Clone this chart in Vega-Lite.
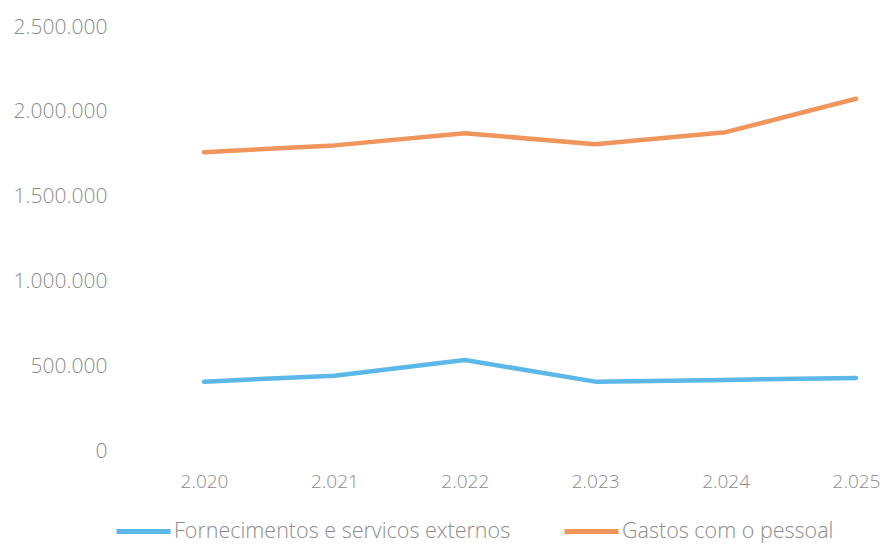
{
  "$schema": "https://vega.github.io/schema/vega-lite/v6.json",
  "autosize": "none",
  "width": 652,
  "height": 424,
  "padding": {"left": 204, "top": 27, "right": 24, "bottom": 93},
  "background": "white",
  "config": {
    "view": {"stroke": null},
    "locale": {"number": {"decimal": ",", "thousands": ".", "grouping": [3], "currency": ["", " €"]}},
    "font": "Open Sans"
  },
  "data": {
    "values": [
      {"ano": 2020, "serie": "Fornecimentos e servicos externos", "valor": 409000},
      {"ano": 2021, "serie": "Fornecimentos e servicos externos", "valor": 444000},
      {"ano": 2022, "serie": "Fornecimentos e servicos externos", "valor": 537000},
      {"ano": 2023, "serie": "Fornecimentos e servicos externos", "valor": 409000},
      {"ano": 2024, "serie": "Fornecimentos e servicos externos", "valor": 419000},
      {"ano": 2025, "serie": "Fornecimentos e servicos externos", "valor": 431000},
      {"ano": 2020, "serie": "Gastos com o pessoal", "valor": 1762000},
      {"ano": 2021, "serie": "Gastos com o pessoal", "valor": 1802000},
      {"ano": 2022, "serie": "Gastos com o pessoal", "valor": 1874000},
      {"ano": 2023, "serie": "Gastos com o pessoal", "valor": 1808000},
      {"ano": 2024, "serie": "Gastos com o pessoal", "valor": 1880000},
      {"ano": 2025, "serie": "Gastos com o pessoal", "valor": 2077000}
    ]
  },
  "mark": {"type": "line", "strokeWidth": 4.5, "strokeCap": "round", "strokeJoin": "round"},
  "encoding": {
    "x": {
      "field": "ano",
      "type": "ordinal",
      "scale": {"type": "point", "padding": 0},
      "axis": {
        "title": null,
        "domain": false,
        "ticks": false,
        "grid": false,
        "labelAngle": 0,
        "labelPadding": 21,
        "labelDx": -6,
        "labelFontSize": 19,
        "labelFontWeight": 300,
        "labelColor": "#8c8c8c",
        "labelExpr": "format(datum.value, ',d')"
      }
    },
    "y": {
      "field": "valor",
      "type": "quantitative",
      "scale": {"domain": [0, 2500000], "nice": false},
      "axis": {
        "title": null,
        "domain": false,
        "ticks": false,
        "grid": false,
        "values": [0, 500000, 1000000, 1500000, 2000000, 2500000],
        "format": ",d",
        "labelPadding": 97,
        "labelFontSize": 21,
        "labelFontWeight": 300,
        "labelColor": "#8c8c8c"
      }
    },
    "color": {
      "field": "serie",
      "type": "nominal",
      "scale": {
        "domain": ["Fornecimentos e servicos externos", "Gastos com o pessoal"],
        "range": ["#5BB8E8", "#F0955C"]
      },
      "legend": {
        "title": null,
        "orient": "none",
        "direction": "horizontal",
        "legendX": -90,
        "legendY": 475,
        "symbolType": "stroke",
        "symbolSize": 2916,
        "symbolStrokeWidth": 5,
        "labelOffset": 1,
        "columnPadding": 43,
        "labelFontSize": 21.5,
        "labelFontWeight": 300,
        "labelColor": "#8c8c8c",
        "labelLimit": 500
      }
    }
  }
}
